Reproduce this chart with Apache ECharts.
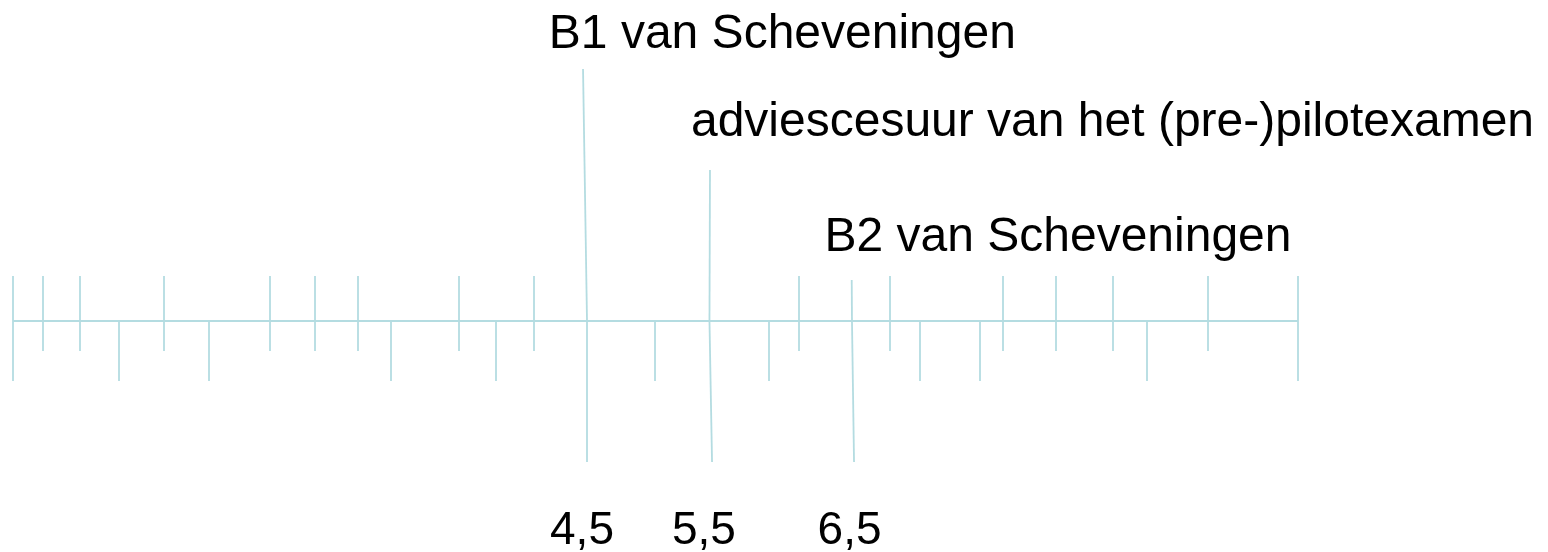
<!DOCTYPE html>
<html>
<head>
<meta charset="utf-8">
<script src="https://cdn.jsdelivr.net/npm/echarts@6/dist/echarts.min.js"></script>
<style>
html,body{margin:0;padding:0;background:#fff;}
#chart{width:1548px;height:552px;}
</style>
</head>
<body>
<div id="chart"></div>
<script>
// Positions along the scale (0 = left end, 100 = right end)
const scaleEnds = [0, 100];
const upTicks = [2.33, 5.21, 11.75, 20.0, 23.5, 26.85, 34.71, 40.54, 61.17, 68.25, 77.04, 81.17, 85.6, 93.0];
const downTicks = [8.25, 15.25, 29.42, 37.59, 49.96, 58.83, 70.58, 75.25, 88.25];

// Marker lines: position on scale, top end (x, y), label text, value label
const markerNames = ['B1 van Scheveningen', 'adviescesuur van het (pre-)pilotexamen', 'B2 van Scheveningen'];
const markerValues = ['4,5', '5,5', '6,5'];
const markerBaseX = [44.67, 54.2, 65.29];
const markerTopX = [44.36, 54.24, 65.27];
const markerTopY = [16.8, 10.07, 2.73];
const markerBottomX = [44.67, 54.4, 65.45];
const markerBottomY = -9.4;
const markerLabelX = [41.7, 52.76, 63.15];
const markerLabelY = [19.1, 13.2, 5.55];
const valueLabelX = [44.28, 53.77, 65.1];
const valueLabelY = -14.0;

const UP_TOP = 3, UP_BOTTOM = -2, DOWN_BOTTOM = -4;
const lineColor = '#b4dce1';

const segs = [];
segs.push({coords: [[scaleEnds[0], 0], [scaleEnds[1], 0]]});
scaleEnds.forEach(x => segs.push({coords: [[x, UP_TOP], [x, DOWN_BOTTOM]]}));
upTicks.forEach(x => segs.push({coords: [[x, UP_TOP], [x, UP_BOTTOM]]}));
downTicks.forEach(x => segs.push({coords: [[x, 0], [x, DOWN_BOTTOM]]}));
markerNames.forEach((n, i) => {
  segs.push({coords: [[markerTopX[i], markerTopY[i]], [markerBaseX[i], 0]]});
  segs.push({coords: [[markerBaseX[i], 0], [markerBottomX[i], markerBottomY]]});
});

const textStyle = {color: '#000000', opacity: 1, textBorderWidth: 0, fontFamily: 'Liberation Sans, Arial, sans-serif'};

const chart = echarts.init(document.getElementById('chart'), null, {renderer: 'canvas'});
chart.setOption({
  animation: false,
  backgroundColor: '#ffffff',
  grid: {left: 13, width: 1285, top: 0, height: 552},
  xAxis: {type: 'value', min: 0, max: 100, show: false},
  yAxis: {type: 'value', min: -15.4, max: 21.4, show: false},
  series: [
    {
      type: 'lines',
      coordinateSystem: 'cartesian2d',
      silent: true,
      lineStyle: {color: lineColor, width: 1.8, opacity: 1},
      data: segs
    },
    {
      type: 'scatter',
      silent: true,
      symbolSize: 0,
      itemStyle: {color: '#000000', opacity: 1},
      data: markerNames.map((n, i) => [markerLabelX[i], markerLabelY[i], n]),
      label: Object.assign({
        show: true, position: [0, 0], align: 'left', verticalAlign: 'middle',
        formatter: p => p.data[2], fontSize: 48
      }, textStyle)
    },
    {
      type: 'scatter',
      silent: true,
      symbolSize: 0,
      itemStyle: {color: '#000000', opacity: 1},
      data: markerValues.map((v, i) => [valueLabelX[i], valueLabelY, v]),
      label: Object.assign({
        show: true, position: [0, 0], align: 'center', verticalAlign: 'middle',
        formatter: p => p.data[2], fontSize: 46
      }, textStyle)
    }
  ]
});
</script>
</body>
</html>
